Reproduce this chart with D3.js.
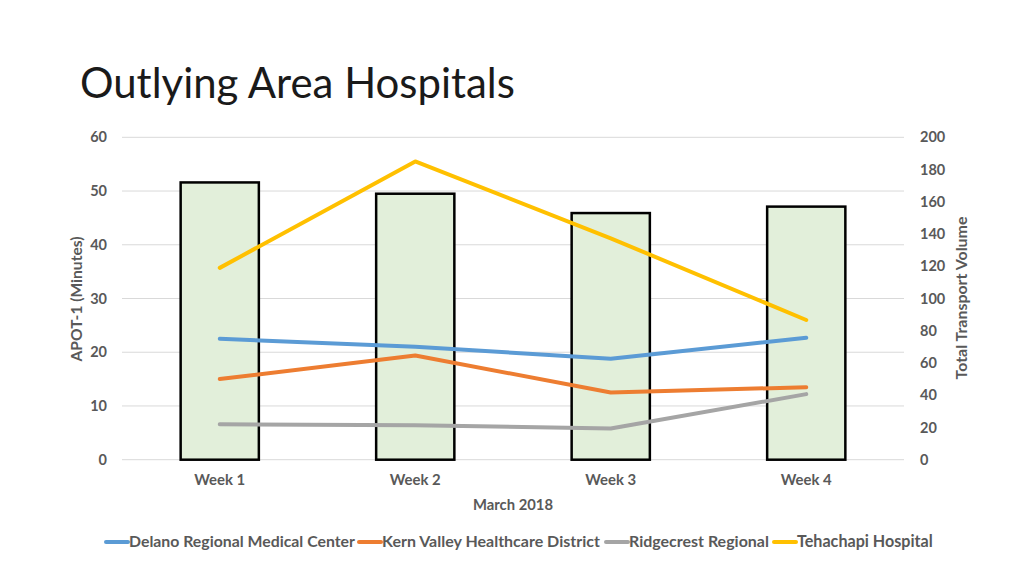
<!DOCTYPE html>
<html><head><meta charset="utf-8">
<script src="https://cdn.jsdelivr.net/npm/d3@7"></script>
<style>body{margin:0;background:#fff}svg{display:block}text{font-family:Lato,"Open Sans",sans-serif}</style>
</head><body><svg id="c" width="1024" height="576"></svg>
<script>
const categories = ["Week 1","Week 2","Week 3","Week 4"];
const transportVolume = [172, 165, 153, 157];
const seriesNames = ["Delano Regional Medical Center","Kern Valley Healthcare District","Ridgecrest Regional","Tehachapi Hospital"];
const delano = [22.5, 21.0, 18.8, 22.7];
const kernValley = [15.0, 19.4, 12.5, 13.5];
const ridgecrest = [6.6, 6.4, 5.8, 12.2];
const tehachapi = [35.7, 55.5, 41.2, 26.0];
const leftTicks = [0,10,20,30,40,50,60];
const rightTicks = [0,20,40,60,80,100,120,140,160,180,200];
const seriesColors = ["#5B9BD5","#ED7D31","#A5A5A5","#FFC000"];

const svg = d3.select("#c");
const L = 122, R = 904, T = 137.3, B = 459.7;
const x = d3.scaleBand().domain(categories).range([L, R]).paddingInner(0.6).paddingOuter(0.3);
const yL = d3.scaleLinear().domain([0,60]).range([B, T]);
const yR = d3.scaleLinear().domain([0,200]).range([B, T]);
const tickCol = "#595959";
function fit(t, base, target) {
  t.attr("font-size", base);
  const w = t.node().getComputedTextLength();
  t.attr("font-size", base * target / w);
}

// title
const title = svg.append("text").attr("x", 80).attr("y", 98).attr("font-weight", 400)
  .attr("fill", "#1a1a1a").text("Outlying Area Hospitals");
fit(title, 42, 435);

// gridlines
svg.append("g").selectAll("line").data(leftTicks).join("line")
  .attr("x1", L).attr("x2", R).attr("y1", d => yL(d)).attr("y2", d => yL(d))
  .attr("stroke", "#d9d9d9").attr("stroke-width", 1);

// left axis
const axL = svg.append("g").attr("transform", `translate(${L},0)`)
  .call(d3.axisLeft(yL).tickValues(leftTicks).tickSize(0).tickPadding(15));
axL.select(".domain").remove();
axL.selectAll("text").attr("font-size", 14.5).attr("font-weight", 700).attr("fill", tickCol).attr("font-family", "Lato");

// right axis
const axR = svg.append("g").attr("transform", `translate(${R},0)`)
  .call(d3.axisRight(yR).tickValues(rightTicks).tickSize(0).tickPadding(16));
axR.select(".domain").remove();
axR.selectAll("text").attr("font-size", 14.5).attr("font-weight", 700).attr("fill", tickCol).attr("font-family", "Lato");

// bars
svg.append("g").selectAll("rect").data(transportVolume).join("rect")
  .attr("x", (d,i) => x(categories[i])).attr("width", x.bandwidth())
  .attr("y", d => yR(d)).attr("height", d => yR(0) - yR(d))
  .attr("fill", "#E2EFDA").attr("stroke", "#000").attr("stroke-width", 2.5);

// lines
const allSeries = [delano, kernValley, ridgecrest, tehachapi];
const line = d3.line().x((d,i) => x(categories[i]) + x.bandwidth()/2).y(d => yL(d));
svg.append("g").selectAll("path").data(allSeries).join("path")
  .attr("d", d => line(d)).attr("fill", "none")
  .attr("stroke", (d,i) => seriesColors[i]).attr("stroke-width", 4)
  .attr("stroke-linejoin", "round").attr("stroke-linecap", "round");

// x axis labels
const axB = svg.append("g").attr("transform", `translate(0,${B})`)
  .call(d3.axisBottom(x).tickSize(0).tickPadding(15));
axB.select(".domain").remove();
axB.selectAll("text").attr("font-weight", 700).attr("fill", tickCol).attr("font-family", "Lato")
  .each(function(){ fit(d3.select(this), 14, 51); });

fit(svg.append("text").attr("x", 513).attr("y", 510).attr("text-anchor", "middle")
  .attr("font-weight", 700).attr("fill", tickCol).text("March 2018"), 14, 80);

fit(svg.append("text").attr("transform", "translate(82,299) rotate(-90)").attr("text-anchor", "middle")
  .attr("font-weight", 700).attr("fill", tickCol).text("APOT-1 (Minutes)"), 14, 125);
fit(svg.append("text").attr("transform", "translate(967,298) rotate(-90)").attr("text-anchor", "middle")
  .attr("font-weight", 700).attr("fill", tickCol).text("Total Transport Volume"), 14, 163);

// legend
const legStarts = [104, 357, 604, 772];
const legEnds = [355, 600, 769, 933];
const lg = svg.append("g");
seriesNames.forEach((n, i) => {
  lg.append("line").attr("x1", legStarts[i] + 2).attr("x2", legStarts[i] + 24).attr("y1", 542).attr("y2", 542)
    .attr("stroke", seriesColors[i]).attr("stroke-width", 4).attr("stroke-linecap", "round");
  const t = lg.append("text").attr("x", legStarts[i] + 25).attr("y", 547)
    .attr("font-weight", 700).attr("fill", tickCol).text(n);
  fit(t, 14, legEnds[i] - legStarts[i] - 25);
});
</script></body></html>
